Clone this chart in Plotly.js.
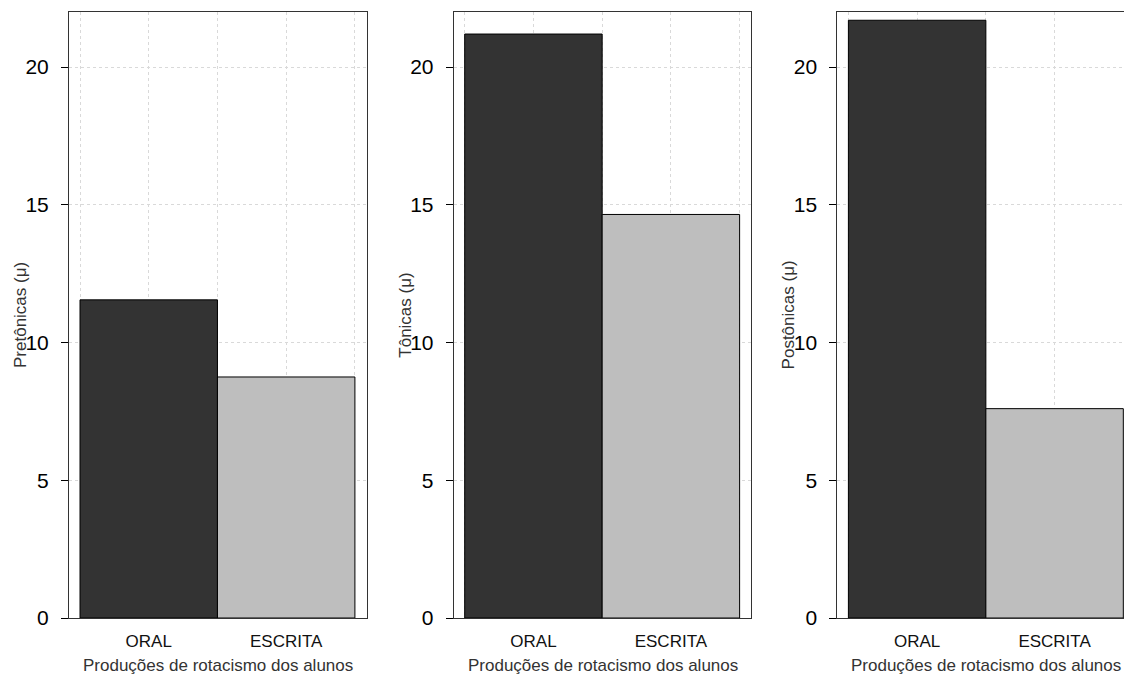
<!DOCTYPE html>
<html>
<head>
<meta charset="utf-8">
<script src="https://cdn.plot.ly/plotly-3.0.1.min.js"></script>
<style>
  html, body { margin: 0; padding: 0; overflow: hidden; background: #fff; }
  #chart { width: 1124px; height: 675px; }
</style>
</head>
<body>
<div id="chart"></div>
<script>
// Rhotacism productions by stress position (means)
const categories = ['ORAL', 'ESCRITA'];
const pretonicas = [11.55, 8.75];
const tonicas = [21.2, 14.65];
const postonicas = [21.7, 7.6];
const yTitles = ['Pretônicas (μ)', 'Tônicas (μ)', 'Postônicas (μ)'];
const xTitle = 'Produções de rotacismo dos alunos';
const yTickValues = [0, 5, 10, 15, 20];
const barColors = ['#333333', '#bebebe'];

const series = [pretonicas, tonicas, postonicas];

// Panel geometry (pixels); the last panel runs past the right edge
const W = 1124, H = 675;
const margin = { l: 69, r: 0, t: 12, b: 57 };
const plotW = W - margin.l - margin.r;
const plotH = H - margin.t - margin.b;
const panelLeft = [69, 453.7, 837.4];
const panelWidth = 297.6;
const xMin = -0.58, xMax = 1.585;
const pxPerUnit = panelWidth / (xMax - xMin);
const FONT = 'Liberation Sans, Arial, sans-serif';

const xPos = categories.map((c, i) => i);

const traces = series.map((vals, k) => ({
  type: 'bar',
  x: xPos,
  y: vals,
  width: 1,
  marker: { color: barColors, line: { color: '#000', width: 1 } },
  xaxis: k === 0 ? 'x' : 'x' + (k + 1),
  yaxis: k === 0 ? 'y' : 'y' + (k + 1),
  hoverinfo: 'x+y',
  showlegend: false
}));

const layout = {
  width: W,
  height: H,
  margin: margin,
  paper_bgcolor: '#fff',
  plot_bgcolor: '#fff',
  font: { family: FONT, color: '#000' },
  annotations: [],
  bargap: 0
};

series.forEach((vals, k) => {
  const sfx = k === 0 ? '' : String(k + 1);
  const left = panelLeft[k];
  const right = Math.min(left + panelWidth, margin.l + plotW);
  const visW = right - left;
  const clipped = right < left + panelWidth;
  const d0 = (left - margin.l) / plotW;
  const d1 = (right - margin.l) / plotW;
  layout['xaxis' + sfx] = {
    domain: [d0, d1],
    range: [xMin, xMin + visW / pxPerUnit],
    anchor: 'y' + sfx,
    tickmode: 'array',
    tickvals: [-0.5, 0, 0.5, 1, 1.5],
    ticktext: ['', categories[0], '', categories[1], ''],
    ticks: '',
    ticklabelstandoff: 8,
    tickfont: { family: FONT, size: 17, color: '#111' },
    showgrid: true,
    gridcolor: '#d9d9d9',
    griddash: 'dot',
    gridwidth: 1,
    showline: true,
    linecolor: '#333',
    linewidth: 1,
    mirror: true,
    zeroline: false,
    fixedrange: true
  };
  layout['yaxis' + sfx] = {
    domain: [0, 1],
    range: [0, 22],
    anchor: 'x' + sfx,
    tickmode: 'array',
    tickvals: yTickValues,
    ticks: 'outside',
    ticklen: 7,
    tickcolor: '#000',
    tickwidth: 1,
    ticklabelstandoff: 8,
    tickfont: { family: FONT, size: 21, color: '#000' },
    showgrid: true,
    gridcolor: '#d9d9d9',
    griddash: 'dot',
    gridwidth: 1,
    showline: true,
    linecolor: '#333',
    linewidth: 1,
    mirror: !clipped,
    zeroline: false,
    fixedrange: true
  };
  // y-axis title, set close to the tick labels
  layout.annotations.push({
    xref: 'x' + sfx + ' domain', yref: 'y' + sfx + ' domain',
    x: -49 / visW, y: 0.5,
    xanchor: 'center', yanchor: 'middle',
    textangle: -90,
    showarrow: false,
    text: yTitles[k],
    font: { family: FONT, size: 17, color: '#333' }
  });
  // x-axis title, centred on the full panel width
  layout.annotations.push({
    xref: 'x' + sfx + ' domain', yref: 'y' + sfx + ' domain',
    x: (panelWidth / 2) / visW, y: -47 / plotH,
    xanchor: 'center', yanchor: 'middle',
    showarrow: false,
    text: xTitle,
    font: { family: FONT, size: 17, color: '#333' }
  });
});

Plotly.newPlot('chart', traces, layout, { displayModeBar: false, staticPlot: true });
</script>
</body>
</html>
